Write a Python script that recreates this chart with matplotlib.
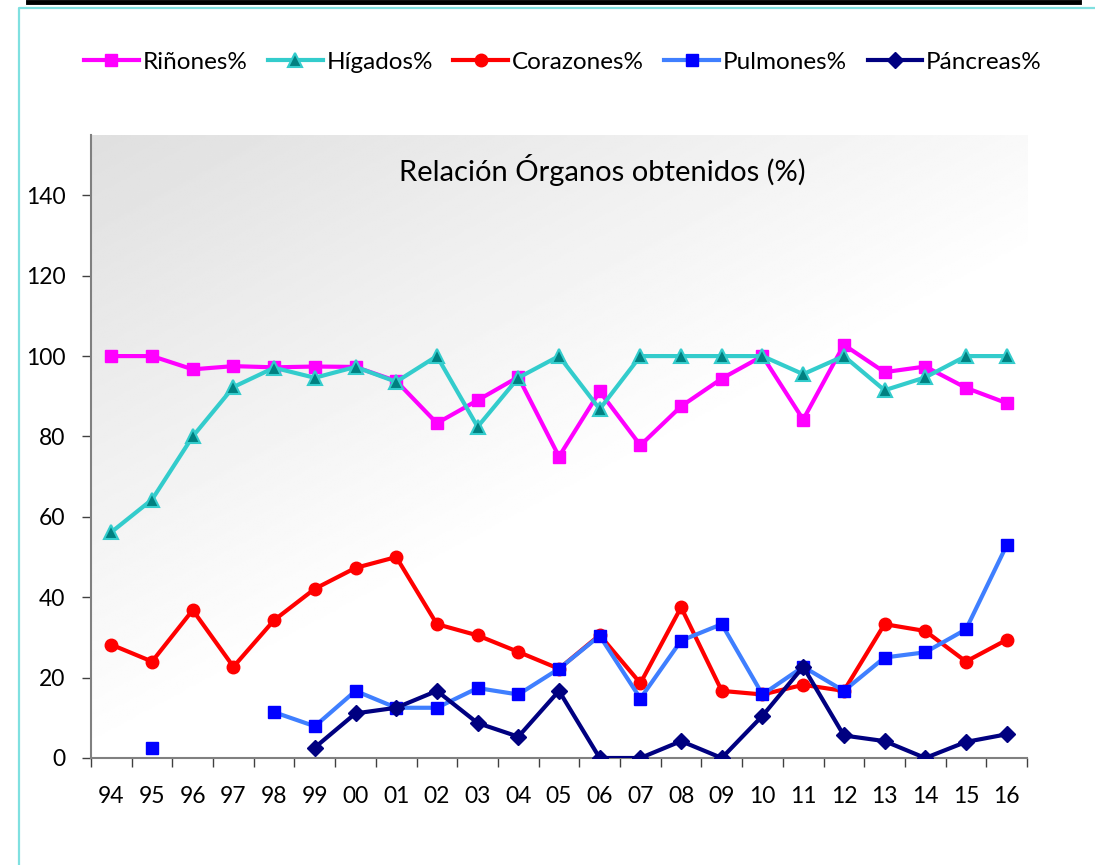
import numpy as np
import matplotlib
matplotlib.use("Agg")
import matplotlib.pyplot as plt
from matplotlib.lines import Line2D

plt.rcParams["font.family"] = ["Lato", "DejaVu Sans"]

years = ["94", "95", "96", "97", "98", "99", "00", "01", "02", "03", "04", "05",
         "06", "07", "08", "09", "10", "11", "12", "13", "14", "15", "16"]
nan = np.nan
rinones = [100, 100, 96.7, 97.5, 97.2, 97.4, 97.3, 93.8, 83.3, 89.0, 94.8, 75.0,
           91.2, 77.8, 87.5, 94.4, 100, 84.2, 102.8, 96.0, 97.4, 92.1, 88.3]
higados = [56.2, 64.3, 80.0, 92.3, 97.1, 94.6, 97.3, 93.6, 100, 82.4, 94.6, 100,
           86.8, 100, 100, 100, 100, 95.5, 100, 91.5, 94.7, 100, 100]
corazones = [28.2, 24.0, 36.8, 22.7, 34.3, 42.1, 47.3, 50.0, 33.3, 30.5, 26.4, 22.2,
             30.6, 18.6, 37.5, 16.7, 15.8, 18.2, 16.7, 33.3, 31.6, 24.0, 29.4]
pulmones = [nan, 2.5, nan, nan, 11.4, 7.9, 16.7, 12.5, 12.5, 17.4, 15.8, 22.2,
            30.4, 14.8, 29.2, 33.3, 15.8, 22.7, 16.7, 25.0, 26.3, 32.0, 52.9]
pancreas = [nan, nan, nan, nan, nan, 2.6, 11.1, 12.5, 16.7, 8.7, 5.3, 16.7,
            0, 0, 4.2, 0, 10.5, 22.7, 5.6, 4.2, 0, 4.0, 5.9]

fig = plt.figure(figsize=(10.95, 8.65), dpi=100)
ax = fig.add_axes([0.0831, 0.1237, 0.8548, 0.7202])

# diagonal grey -> white background of the plot area (grey at top-left)
gx, gy = np.meshgrid(np.linspace(0, 1, 300), np.linspace(0, 1, 300))
d = np.clip(0.8 * gx + 1.0 * gy, 0, 1)
grad = 0.875 + 0.125 * d
ax.imshow(grad, cmap="gray", vmin=0, vmax=1, extent=[0, 1, 0, 1], origin="upper",
          transform=ax.transAxes, aspect="auto", zorder=0)

x = np.arange(len(years))
ax.plot(x, rinones, color="#FF00FF", lw=3, marker="s", ms=8.5, mfc="#FF00FF",
        mec="#FF00FF", label="Riñones%", zorder=3)
ax.plot(x, higados, color="#33CCCC", lw=3, marker="^", ms=10.5, mfc="#008080",
        mec="#33CCCC", mew=1.5, label="Hígados%", zorder=3)
ax.plot(x, corazones, color="#FF0000", lw=3, marker="o", ms=9, mfc="#FF0000",
        mec="#FF0000", label="Corazones%", zorder=3)
ax.plot(x, pulmones, color="#3F7FFF", lw=3, marker="s", ms=9, mfc="#0000FF",
        mec="#0000FF", label="Pulmones%", zorder=3)
ax.plot(x, pancreas, color="#000080", lw=3, marker="D", ms=8.5, mfc="#000080",
        mec="#000080", label="Páncreas%", zorder=3)

ax.set_xlim(-0.5, len(years) - 0.5)
ax.set_ylim(0, 155)
ax.set_yticks(range(0, 141, 20))
ax.set_xticks(x)
ax.set_xticklabels(years)
ax.set_xticks(np.arange(-0.5, len(years), 1), minor=True)
ax.tick_params(axis="x", which="major", length=0, pad=20, labelsize=16.5)
ax.tick_params(axis="x", which="minor", length=6.5, width=1, color="#404040")
ax.tick_params(axis="y", length=6.5, width=1, color="#404040", pad=12, labelsize=16.5)
for s in ["top", "right"]:
    ax.spines[s].set_visible(False)
for s in ["left", "bottom"]:
    ax.spines[s].set_color("#808080")
    ax.spines[s].set_linewidth(1.5)

ax.text(0.546, 0.944, "Relación Órganos obtenidos (%)", transform=ax.transAxes,
        ha="center", va="center", fontsize=21)

fig.legend(loc="center", bbox_to_anchor=(0.514, 0.928), ncol=5, frameon=False,
           fontsize=17.5, handlelength=2.25, handletextpad=0.15, columnspacing=0.85)

# chart frame decorations
fig.add_artist(Line2D([0.026, 0.985], [0.998, 0.998], color="black", lw=3.5,
                      transform=fig.transFigure))
fig.add_artist(Line2D([0.017, 0.017, 1.0], [0.0, 0.991, 0.991], color="#80E0E0",
                      lw=1.6, transform=fig.transFigure))

fig.savefig("out.png", dpi=100)
